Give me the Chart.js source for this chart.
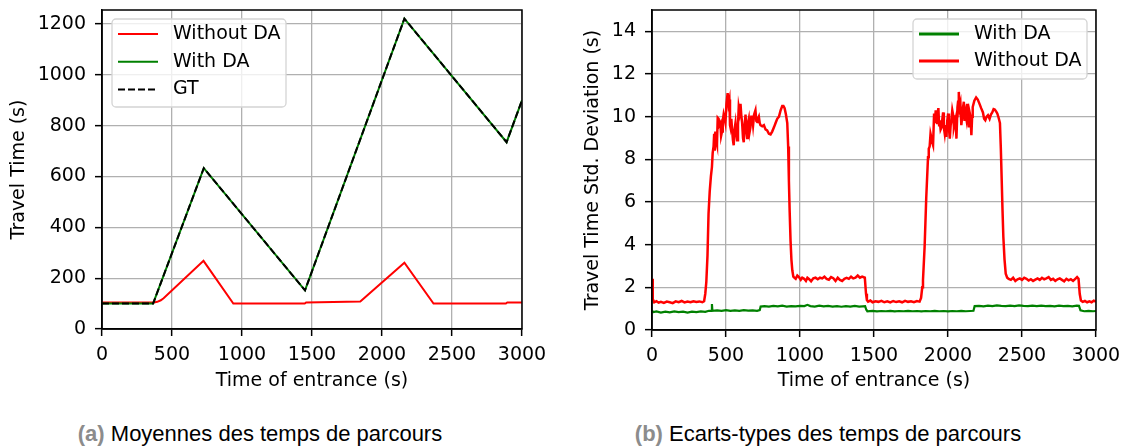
<!DOCTYPE html>
<html>
<head>
<meta charset="utf-8">
<script src="https://cdn.jsdelivr.net/npm/chart.js@4.4.0/dist/chart.umd.min.js"></script>
<style>
body { margin: 0; background: #fff; }
#wrap { position: relative; width: 1127px; height: 448px; overflow: hidden; background: #fff; }
canvas { position: absolute; top: 0; }
#cA { left: 0; }
#cB { left: 560px; }
.cap { position: absolute; top: 423px; font-family: "Liberation Sans", Arial, sans-serif; font-size: 22px; line-height: 22px; color: #000; white-space: nowrap; transform: translateX(-50%); }
.cap b { color: #8c8c8c; }
</style>
</head>
<body>
<div id="wrap">
  <canvas id="cA" width="560" height="400"></canvas>
  <canvas id="cB" width="567" height="400"></canvas>
  <div class="cap" style="left:260px"><b>(a)</b> Moyennes des temps de parcours</div>
  <div class="cap" style="left:828px"><b>(b)</b> Ecarts-types des temps de parcours</div>
</div>
<script>
// (a) moyennes : [temps d'entrée, temps de parcours]
const moySans = [[0,104],[370,104],[395,107],[420,113],[440,121],[725,268],[938,100],[1448,100],[1458,104],[1845,108],[2160,261],[2368,100],[2885,100],[2895,104],[3000,104]];
const moyAvec = [[0,100],[365,100],[727,633],[1450,152],[2160,1221],[2890,735],[3000,900]];
const moyGT = [[0,100],[365,100],[727,633],[1450,152],[2160,1221],[2890,735],[3000,900]];

// (b) écarts-types
const ecartAvec = [[0,0.9],[10,0.84],[30,0.87],[60,0.82],[90,0.86],[120,0.83],[150,0.87],[180,0.84],[210,0.86],[240,0.82],[270,0.86],[300,0.84],[330,0.87],[360,0.85],[385,0.9],[402,0.9],[405,1.22],[408,0.9],[440,0.92],[470,0.9],[500,0.93],[530,0.9],[560,0.92],[590,0.9],[620,0.93],[650,0.91],[680,0.92],[710,0.9],[728,0.93],[734,1.1],[760,1.12],[790,1.1],[820,1.13],[850,1.11],[880,1.14],[910,1.1],[940,1.12],[970,1.11],[1000,1.13],[1030,1.12],[1050,1.18],[1070,1.12],[1100,1.1],[1130,1.14],[1160,1.11],[1190,1.13],[1220,1.1],[1250,1.12],[1280,1.09],[1310,1.12],[1340,1.1],[1370,1.13],[1400,1.1],[1440,1.12],[1448,0.95],[1455,0.88],[1490,0.9],[1520,0.87],[1550,0.89],[1580,0.88],[1610,0.9],[1640,0.87],[1670,0.89],[1700,0.88],[1730,0.9],[1760,0.88],[1790,0.89],[1820,0.87],[1850,0.89],[1880,0.88],[1910,0.9],[1940,0.88],[1970,0.89],[2000,0.87],[2030,0.89],[2060,0.88],[2090,0.9],[2120,0.88],[2150,0.89],[2172,0.9],[2180,1.12],[2210,1.13],[2240,1.11],[2270,1.14],[2300,1.12],[2330,1.15],[2360,1.13],[2390,1.12],[2420,1.14],[2450,1.12],[2480,1.15],[2510,1.13],[2540,1.12],[2570,1.14],[2600,1.12],[2630,1.14],[2660,1.12],[2690,1.13],[2720,1.11],[2750,1.14],[2780,1.12],[2810,1.13],[2840,1.11],[2870,1.14],[2885,1.13],[2895,0.92],[2920,0.88],[2950,0.9],[2980,0.88],[3000,0.89]];

const ecartSans = [[0,2.4],[5,1.45],[15,1.3],[30,1.35],[45,1.28],[60,1.32],[80,1.27],[100,1.33],[120,1.3],[140,1.26],[160,1.34],[180,1.3],[200,1.36],[220,1.29],[240,1.33],[260,1.3],[280,1.35],[300,1.31],[320,1.34],[340,1.3],[352,1.35],
  [360,1.7],[367,2.25],[375,3.5],[382,5.45],[390,6.5],[398,7.2],[405,7.64],[410,8.3],[416,8.6],[420,9.2],[424,8.4],[428,9.3],[433,8.9],[439,8.7],[444,9.95],[450,9.9],[455,9.6],[462,9.7],[467,9.1],[473,9.3],[478,9.8],[484,10.1],[490,9.9],[496,9.7],[503,10.6],[511,11.1],[517,10.6],[523,10.8],[527,9.6],[530,9.5],[536,9.9],[541,9.4],[547,8.9],[552,8.66],[558,9.4],[564,9.7],[570,9.2],[575,8.9],[581,9.6],[586,10.45],[592,10.2],[598,10.6],[603,10.1],[609,9.7],[615,9.0],[620,8.8],[626,9.6],[632,10.1],[637,9.4],[643,9.0],[648,9.7],[654,9.9],[660,9.3],[665,9.5],[671,10.0],[677,10.0],[683,9.6],[690,10.1],[699,10.3],[705,9.8],[711,9.75],[716,9.9],[722,10.0],[728,9.7],[733,9.6],[745,9.55],[756,9.6],[767,9.4],[778,9.36],[790,9.2],[801,9.17],[812,9.3],[824,9.5],[835,9.7],[846,9.9],[858,10.0],[869,10.3],[880,10.5],[888,10.5],[896,10.4],[905,10.1],[914,9.7],[920,8.6],[925,7.0],[930,5.6],[936,4.2],[942,3.3],[948,2.8],[955,2.5],[963,2.45],
  [971,2.4],[982,2.55],[993,2.48],[1005,2.35],[1015,2.45],[1028,2.4],[1040,2.3],[1050,2.45],[1062,2.38],[1075,2.28],[1090,2.42],[1105,2.45],[1120,2.38],[1135,2.45],[1150,2.42],[1165,2.5],[1180,2.4],[1195,2.36],[1210,2.48],[1225,2.43],[1240,2.3],[1255,2.45],[1270,2.35],[1285,2.3],[1300,2.4],[1315,2.44],[1330,2.4],[1345,2.5],[1360,2.42],[1375,2.45],[1390,2.55],[1405,2.45],[1420,2.5],[1438,2.45],[1446,1.7],[1452,1.4],[1460,1.33],
  [1475,1.38],[1490,1.3],[1510,1.35],[1530,1.32],[1550,1.37],[1570,1.3],[1590,1.34],[1610,1.29],[1630,1.36],[1650,1.31],[1670,1.35],[1690,1.3],[1710,1.37],[1730,1.32],[1750,1.35],[1770,1.3],[1790,1.36],[1808,1.33],[1818,1.5],
  [1826,2.0],[1831,2.33],[1842,3.9],[1853,6.2],[1865,8.1],[1870,8.5],[1876,8.6],[1882,9.2],[1887,9.05],[1893,8.8],[1899,8.66],[1906,10.15],[1911,9.7],[1917,10.3],[1922,9.9],[1926,9.7],[1931,10.2],[1935,10.4],[1940,9.6],[1944,9.83],[1950,9.4],[1956,9.5],[1962,9.9],[1967,10.2],[1972,9.5],[1978,9.2],[1984,9.6],[1989,9.05],[1995,9.8],[2001,10.15],[2006,9.5],[2012,8.97],[2018,9.6],[2023,9.83],[2029,10.3],[2035,10.07],[2040,9.5],[2046,9.7],[2052,9.9],[2057,8.97],[2064,10.45],[2068,10.7],[2073,11.16],[2078,10.4],[2084,10.6],[2090,9.6],[2096,10.0],[2101,10.4],[2107,10.7],[2112,9.8],[2118,10.15],[2124,9.9],[2129,10.6],[2135,10.0],[2141,9.5],[2146,10.2],[2152,10.0],[2158,9.13],[2163,10.0],[2167,10.45],[2178,10.75],[2190,10.9],[2201,10.8],[2213,10.6],[2224,10.4],[2236,10.2],[2244,9.9],[2252,9.83],[2261,10.0],[2270,10.07],[2281,9.9],[2290,10.1],[2299,10.2],[2308,10.35],[2316,10.33],[2325,10.25],[2333,10.15],[2342,9.95],[2351,9.7],[2357,8.5],[2363,7.0],[2368,5.7],[2374,4.36],[2382,3.3],[2390,2.64],[2400,2.45],
  [2410,2.4],[2425,2.35],[2440,2.45],[2455,2.3],[2470,2.38],[2485,2.42],[2500,2.35],[2515,2.45],[2530,2.4],[2545,2.32],[2560,2.38],[2575,2.3],[2590,2.36],[2605,2.42],[2620,2.35],[2635,2.45],[2650,2.38],[2665,2.42],[2680,2.48],[2695,2.35],[2710,2.4],[2725,2.3],[2740,2.38],[2755,2.42],[2770,2.35],[2785,2.28],[2800,2.4],[2815,2.33],[2830,2.38],[2845,2.3],[2860,2.4],[2872,2.48],[2882,2.4],[2890,1.7],[2898,1.38],
  [2910,1.32],[2925,1.36],[2940,1.3],[2955,1.34],[2970,1.3],[2985,1.37],[3000,1.33]];

const police = { family: 'DejaVu Sans', size: 19 };

function pts(liste) {
    return liste.map(p => ({ x: p[0], y: p[1] }));
}

// cadre noir autour de la zone de tracé
const cadre = {
    id: 'cadre',
    afterDatasetsDraw(chart) {
        const { ctx, chartArea: a } = chart;
        ctx.save();
        ctx.strokeStyle = '#000';
        ctx.lineWidth = 1.5;
        ctx.strokeRect(a.left, a.top, a.right - a.left, a.bottom - a.top);
        ctx.restore();
    }
};

// légende façon matplotlib, dans la zone de tracé
const legendeBoite = {
    id: 'legendeBoite',
    afterDraw(chart, args, o) {
        const ctx = chart.ctx;
        ctx.save();
        ctx.beginPath();
        ctx.roundRect(o.x, o.y, o.w, o.h, 4);
        ctx.fillStyle = 'rgba(255,255,255,0.8)';
        ctx.fill();
        ctx.strokeStyle = '#d4d4d4';
        ctx.lineWidth = 1.3;
        ctx.stroke();
        o.ordre.forEach((i, k) => {
            const d = chart.data.datasets[i];
            const yy = o.y + o.premier + k * o.pas;
            ctx.beginPath();
            ctx.setLineDash(d.borderDash || []);
            ctx.strokeStyle = d.borderColor;
            ctx.lineWidth = o.epais;
            ctx.moveTo(o.x + 6, yy);
            ctx.lineTo(o.x + 46, yy);
            ctx.stroke();
            ctx.setLineDash([]);
            ctx.fillStyle = '#000';
            ctx.font = '19px "DejaVu Sans"';
            ctx.textBaseline = 'middle';
            ctx.fillText(d.label, o.x + 61, yy);
        });
        ctx.restore();
    }
};

function axes(yMax, yPas, yTitre, yLarg, xHaut) {
    return {
        x: {
            type: 'linear', min: 0, max: 3000,
            ticks: { stepSize: 500, color: '#000', font: police, padding: 8, maxRotation: 0, autoSkip: false, includeBounds: false, callback: v => String(v) },
            grid: { color: '#b0b0b0', lineWidth: 1.3, tickColor: '#000', tickLength: 7, tickWidth: 1.5 },
            border: { color: '#000', width: 1.5 },
            title: { display: true, text: 'Time of entrance (s)', color: '#000', font: police },
            afterFit: s => { s.height = xHaut; s.paddingLeft = 0; s.paddingRight = 0; }
        },
        y: {
            type: 'linear', min: 0, max: yMax,
            ticks: { stepSize: yPas, color: '#000', font: police, padding: 9, autoSkip: false, includeBounds: false, callback: v => String(v) },
            grid: { color: '#b0b0b0', lineWidth: 1.3, tickColor: '#000', tickLength: 7, tickWidth: 1.5 },
            border: { color: '#000', width: 1.5 },
            title: { display: true, text: yTitre, color: '#000', font: police },
            afterFit: s => { s.width = yLarg; s.paddingTop = 0; s.paddingBottom = 0; }
        }
    };
}

new Chart(document.getElementById('cA'), {
    type: 'line',
    data: {
        datasets: [
            { label: 'Without DA', data: pts(moySans), borderColor: '#ff0000', borderWidth: 2, order: 3 },
            { label: 'With DA', data: pts(moyAvec), borderColor: '#008000', borderWidth: 2, order: 2 },
            { label: 'GT', data: pts(moyGT), borderColor: '#000000', borderWidth: 2, borderDash: [7, 3], order: 1 }
        ]
    },
    options: {
        responsive: false, animation: false, devicePixelRatio: 1,
        elements: { point: { radius: 0 }, line: { tension: 0 } },
        layout: { padding: { top: 10, right: 38, left: 4, bottom: 4 } },
        scales: axes(1255, 200, 'Travel Time (s)', 98, 67),
        plugins: {
            legend: { display: false }, tooltip: { enabled: false },
            legendeBoite: { x: 112, y: 19, w: 174, h: 88, premier: 15, pas: 27.7, epais: 2, ordre: [0, 1, 2] }
        }
    },
    plugins: [cadre, legendeBoite]
});

new Chart(document.getElementById('cB'), {
    type: 'line',
    data: {
        datasets: [
            { label: 'With DA', data: pts(ecartAvec), borderColor: '#008000', borderWidth: 2.2, order: 2 },
            { label: 'Without DA', data: pts(ecartSans), borderColor: '#ff0000', borderWidth: 2.5, order: 1 }
        ]
    },
    options: {
        responsive: false, animation: false, devicePixelRatio: 1,
        elements: { point: { radius: 0 }, line: { tension: 0 } },
        layout: { padding: { top: 10, right: 31, left: 18, bottom: 4 } },
        scales: axes(15, 2, 'Travel Time Std. Deviation (s)', 74, 66),
        plugins: {
            legend: { display: false }, tooltip: { enabled: false },
            legendeBoite: { x: 353, y: 19, w: 174, h: 60, premier: 15, pas: 27, epais: 3, ordre: [0, 1] }
        }
    },
    plugins: [cadre, legendeBoite]
});
</script>
</body>
</html>
